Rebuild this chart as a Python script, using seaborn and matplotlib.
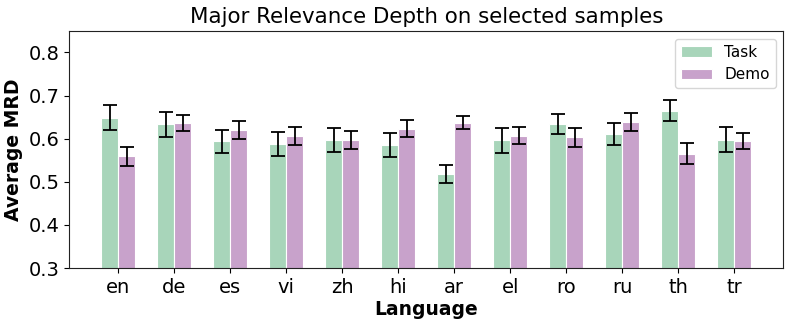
import numpy as np
import pandas as pd
import matplotlib
matplotlib.use("Agg")
import matplotlib.pyplot as plt
import seaborn as sns

languages = ["en", "de", "es", "vi", "zh", "hi", "ar", "el", "ro", "ru", "th", "tr"]
task_vals = [0.649, 0.633, 0.594, 0.588, 0.597, 0.586, 0.519, 0.596, 0.635, 0.611, 0.665, 0.598]
task_err = [0.029, 0.029, 0.027, 0.028, 0.027, 0.028, 0.021, 0.028, 0.023, 0.026, 0.024, 0.029]
demo_vals = [0.559, 0.636, 0.620, 0.606, 0.596, 0.623, 0.637, 0.607, 0.603, 0.638, 0.565, 0.594]
demo_err = [0.022, 0.019, 0.021, 0.021, 0.021, 0.020, 0.015, 0.020, 0.022, 0.021, 0.024, 0.019]
series = ["Task", "Demo"]
colors = ["#a8d5ba", "#c8a2cb"]

df = pd.DataFrame({
    "Language": languages * 2,
    "MRD": task_vals + demo_vals,
    "Type": ["Task"] * len(languages) + ["Demo"] * len(languages),
})

sns.set_style("ticks")
plt.rcParams["font.family"] = ["DejaVu Sans"]
plt.rcParams.update({
    "text.color": "black",
    "axes.labelcolor": "black",
    "xtick.color": "black",
    "ytick.color": "black",
    "axes.edgecolor": "black",
})

fig, ax = plt.subplots(figsize=(7.93, 3.25), dpi=100)
sns.barplot(data=df, x="Language", y="MRD", hue="Type", hue_order=series,
            palette=colors, width=0.6, errorbar=None, saturation=1,
            edgecolor="white", linewidth=0.8, ax=ax)

x = np.arange(len(languages))
ax.errorbar(x - 0.15, task_vals, yerr=task_err, fmt="none", ecolor="black",
            capsize=5, elinewidth=1.3, capthick=1.3)
ax.errorbar(x + 0.15, demo_vals, yerr=demo_err, fmt="none", ecolor="black",
            capsize=5, elinewidth=1.3, capthick=1.3)

ax.set_ylim(0.3, 0.85)
ax.set_xlim(-0.88, len(languages) - 1 + 0.88)
ax.set_title("Major Relevance Depth on selected samples", fontsize=15.4, color="black")
ax.set_xlabel("Language", fontsize=13.5, fontweight="bold", labelpad=2)
ax.set_ylabel("Average MRD", fontsize=13.5, fontweight="bold")
ax.tick_params(axis="both", labelsize=14, colors="black")
for s in ax.spines.values():
    s.set_visible(True)
    s.set_color("#222222")
leg = ax.legend(title=None, fontsize=11, loc="upper right", frameon=True)
for t in leg.get_texts():
    t.set_color("black")

fig.subplots_adjust(left=0.087, right=0.988, top=0.905, bottom=0.175)
fig.savefig("out.png", dpi=100)
